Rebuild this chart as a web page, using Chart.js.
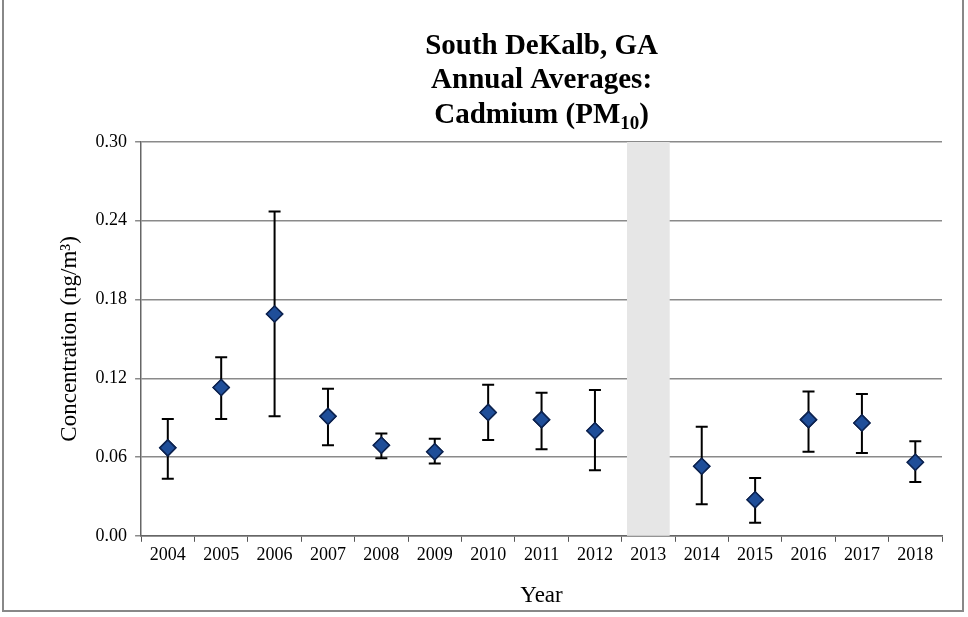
<!DOCTYPE html>
<html><head><meta charset="utf-8">
<script src="https://cdn.jsdelivr.net/npm/chart.js@4"></script>
<style>
html,body{margin:0;padding:0;background:#fff;}
#wrap{position:absolute;left:2px;top:0;width:962px;height:612px;border:2px solid #888;border-top:none;box-sizing:border-box;}
</style></head>
<body>
<div id="wrap"><canvas id="graph"></canvas></div>
<script>
const years = ['2004','2005','2006','2007','2008','2009','2010','2011','2012','2013','2014','2015','2016','2017','2018'];
const means = [0.067, 0.113, 0.169, 0.091, 0.069, 0.064, 0.094, 0.0885, 0.080, null, 0.053, 0.0275, 0.0885, 0.086, 0.056];
const upper = [0.089, 0.136, 0.247, 0.112, 0.078, 0.074, 0.115, 0.109, 0.111, null, 0.083, 0.044, 0.110, 0.108, 0.072];
const lower = [0.0435, 0.089, 0.091, 0.069, 0.059, 0.055, 0.073, 0.066, 0.050, null, 0.024, 0.010, 0.064, 0.063, 0.041];
const yTicks = [0, 0.06, 0.12, 0.18, 0.24, 0.30];
const shadedYears = ['2013'];

const serif = "'Liberation Serif', 'Times New Roman', serif";

// gray band behind missing years
const bandPlugin = {
  id: 'band',
  beforeDatasetsDraw(chart) {
    const { ctx, chartArea, scales } = chart;
    const x = scales.x;
    const w = (x.getPixelForValue(1) - x.getPixelForValue(0)) * 0.8;
    ctx.save();
    ctx.fillStyle = '#e6e6e6';
    shadedYears.forEach(y => {
      const cx = x.getPixelForValue(years.indexOf(y));
      ctx.fillRect(cx - w / 2, chartArea.top, w, chartArea.bottom - chartArea.top);
    });
    ctx.restore();
  }
};

// error bars
const errorPlugin = {
  id: 'errors',
  afterDatasetsDraw(chart) {
    const { ctx, scales } = chart;
    ctx.save();
    ctx.strokeStyle = '#000';
    ctx.lineWidth = 2;
    years.forEach((y, i) => {
      if (upper[i] == null) return;
      const x = scales.x.getPixelForValue(i);
      const t = scales.y.getPixelForValue(upper[i]);
      const b = scales.y.getPixelForValue(lower[i]);
      ctx.beginPath();
      ctx.moveTo(x, t); ctx.lineTo(x, b);
      ctx.moveTo(x - 6, t); ctx.lineTo(x + 6, t);
      ctx.moveTo(x - 6, b); ctx.lineTo(x + 6, b);
      ctx.stroke();
    });
    ctx.restore();
    chart.getDatasetMeta(0).data.forEach(el => el.draw(ctx));
  }
};

// title with subscript
const titlePlugin = {
  id: 'subTitle',
  afterDraw(chart) {
    const { ctx, chartArea } = chart;
    const cx = (chartArea.left + chartArea.right) / 2;
    ctx.save();
    ctx.fillStyle = '#000';
    ctx.textBaseline = 'alphabetic';
    ctx.font = 'bold 29px ' + serif;
    ctx.textAlign = 'center';
    ctx.fillText('South DeKalb, GA', cx, 54);
    ctx.fillText('Annual Averages:', cx, 88);
    const main = 'Cadmium (PM';
    const sub = '10';
    const end = ')';
    const wMain = ctx.measureText(main).width;
    const wEnd = ctx.measureText(end).width;
    ctx.font = 'bold 19px ' + serif;
    const wSub = ctx.measureText(sub).width;
    let x = cx - (wMain + wSub + wEnd) / 2;
    ctx.textAlign = 'left';
    ctx.font = 'bold 29px ' + serif;
    ctx.fillText(main, x, 123);
    ctx.font = 'bold 19px ' + serif;
    ctx.fillText(sub, x + wMain, 129);
    ctx.font = 'bold 29px ' + serif;
    ctx.fillText(end, x + wMain + wSub, 123);
    ctx.restore();
  }
};

new Chart(document.getElementById('graph'), {
  type: 'line',
  data: {
    labels: years,
    datasets: [{
      data: means,
      showLine: false,
      pointStyle: 'rectRot',
      pointRadius: 8,
      pointHoverRadius: 8,
      backgroundColor: '#1f4e99',
      borderColor: '#0d2350',
      borderWidth: 1.5
    }]
  },
  options: {
    responsive: true,
    maintainAspectRatio: false,
    animation: false,
    layout: { padding: { top: 142, right: 20, left: 48, bottom: 0 } },
    plugins: { legend: { display: false }, tooltip: { enabled: false } },
    scales: {
      x: {
        offset: true,
        grid: { offset: true, drawOnChartArea: false, color: '#555', tickLength: 6 },
        border: { color: '#666', width: 1.5 },
        ticks: { color: '#000', font: { family: serif, size: 18 }, maxRotation: 0 },
        title: { display: true, text: 'Year', color: '#000', font: { family: serif, size: 23 }, padding: { top: 13, bottom: 0 } }
      },
      y: {
        min: 0, max: 0.30,
        afterBuildTicks: s => { s.ticks = yTicks.map(v => ({ value: v })); },
        grid: { color: '#8a8a8a', lineWidth: 1.5, tickLength: 6 },
        border: { color: '#666', width: 1.5 },
        ticks: { color: '#000', font: { family: serif, size: 18 }, callback: v => v.toFixed(2), padding: 8 },
        title: { display: true, text: 'Concentration (ng/m³)', color: '#000', font: { family: serif, size: 23 } }
      }
    }
  },
  plugins: [bandPlugin, errorPlugin, titlePlugin]
});
</script>
</body></html>
